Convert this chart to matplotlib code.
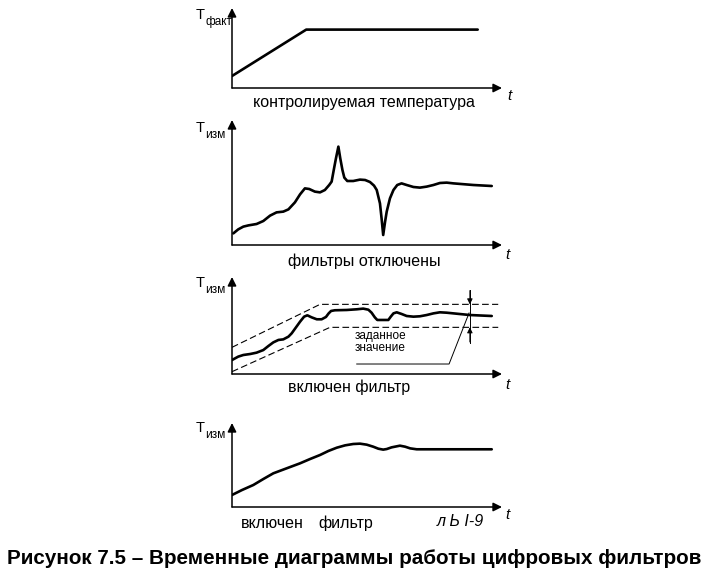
import numpy as np
import matplotlib
matplotlib.use("Agg")
import matplotlib.pyplot as plt

plt.rcParams['font.family'] = ['Liberation Sans', 'DejaVu Sans']

# --- data (time 0..100, temperature 0..100 of each panel height)
t_fact = [0, 27.5, 91]
T_fact = [15, 73, 73]

t_raw = [0.5, 2.3, 4.2, 6.1, 9.1, 11.6, 14.1, 16.5, 19.0, 20.9, 23.3, 25.2, 27.0,
         28.6, 30.7, 32.6, 34.4, 36.0, 36.9, 37.8, 38.5, 39.4, 40.1, 40.9, 41.6,
         42.7, 44.9, 47.4, 49.3, 51.1, 52.6, 53.6, 54.8, 55.4, 56.0, 56.7, 57.3,
         58.5, 59.8, 61.2, 62.8, 64.7, 67.2, 69.6, 72.1, 74.6, 77.0, 79.5, 82.0,
         89.4, 96.2]
T_raw = [9.3, 12.5, 14.7, 15.7, 16.8, 19.2, 23.5, 26.1, 26.7, 28.5, 34.1, 40.5, 45.3,
         44.8, 42.7, 42.1, 44, 48, 50.7, 61.3, 69.3, 78.7, 69.3, 60, 53.9,
         51.2, 51.2, 52.3, 52, 50.4, 47.5, 44, 33.3, 21.3, 8, 18.7, 26.7,
         37.3, 44, 48, 49.3, 48, 46.4, 45.9, 46.7, 48, 49.6, 49.9, 49.3,
         48, 47.2]

t_band_hi = [0, 32.6, 98.6]
T_band_hi = [27.5, 71.8, 71.8]
t_band_lo = [0, 36.3, 98.6]
T_band_lo = [2.4, 48.1, 48.1]

t_flt = [0, 2.3, 4.2, 6.7, 9.1, 11.6, 13.5, 15.3, 17.2, 19.0, 20.9, 22.1, 23.7,
         25.2, 26.7, 27.9, 29.5, 31.4, 33.2, 34.8, 35.8, 36.7, 38.1, 42.5, 46.2,
         48.6, 50.5, 51.7, 52.9, 53.8, 57.9, 58.8, 59.8, 61.0, 62.8, 64.7, 67.2,
         69.6, 72.1, 74.6, 77.0, 79.5, 82.0, 88.1, 96.2]
T_flt = [14.4, 17.9, 19.6, 20.6, 22, 24.7, 28.9, 32.6, 35.1, 35.7, 38.5, 41.9, 48.1,
         53.9, 59.1, 60.5, 58.4, 56.4, 56.4, 58.8, 62.5, 65, 65.7, 66, 66.7,
         67.4, 66.3, 63.2, 58.4, 55.7, 55.7, 59.1, 62.5, 63.6, 61.9, 59.8, 59.1,
         59.5, 60.8, 62.5, 63.6, 63.2, 62.5, 60.8, 59.8]

t_smooth = [0, 3.7, 7.9, 11.6, 15.3, 20.2, 25.2, 28.9, 32.6, 35.7, 38.8, 41.9, 44.9,
            47.4, 49.9, 52.3, 54.2, 56.0, 57.3, 59.1, 62.2, 64.1, 66.0, 68.4, 72.1,
            96.2]
T_smooth = [14.3, 20.2, 26.2, 33.3, 40.1, 46, 52, 57.1, 61.9, 66.7, 70.6, 73.4, 75,
            75.4, 74.2, 71.8, 69.4, 68.3, 69, 71, 73, 71.8, 69.8, 68.7, 68.7,
            68.7]

W, H = 708, 580
fig = plt.figure(figsize=(W / 100, H / 100), dpi=100)


def fx(x, y):
    return x / W, 1 - y / H


def make_panel(axis_y, height):
    ax = fig.add_axes([232 / W, 1 - axis_y / H, 270 / W, height / H])
    ax.set_xlim(0, 100)
    ax.set_ylim(0, 100)
    ax.axis('off')
    arrow = dict(arrowstyle='-|>', lw=1.1, color='black', shrinkA=0, shrinkB=0,
                 mutation_scale=13)
    ax.annotate('', xy=(1, 0), xytext=(0, 0), xycoords='axes fraction',
                arrowprops=arrow, annotation_clip=False)
    ax.annotate('', xy=(0, 1), xytext=(0, 0), xycoords='axes fraction',
                arrowprops=arrow, annotation_clip=False)
    return ax


def ylabel(x, y, sub):
    fig.text(*fx(x, y), 'T', fontsize=10.5, ha='center', va='center')
    fig.text(*fx(x + 5, y + 7), sub, fontsize=8.5, ha='left', va='center')


def tlabel(x, y):
    fig.text(*fx(x, y), 't', fontsize=11, style='italic', ha='center', va='center')


curve = dict(color='black', lw=1.9, solid_joinstyle='round', solid_capstyle='round')

# panel 1
ax1 = make_panel(88, 80)
ax1.plot(t_fact, T_fact, **curve)
ylabel(200, 15, 'факт')
tlabel(509, 96)
fig.text(*fx(364, 102), 'контролируемая температура', fontsize=11.5,
         ha='center', va='center')

# panel 2
ax2 = make_panel(245, 125)
ax2.plot(t_raw, T_raw, **curve)
ylabel(200, 128, 'изм')
tlabel(507, 255)
fig.text(*fx(364, 261), 'фильтры отключены', fontsize=11.5, ha='center', va='center')

# panel 3
ax3 = make_panel(374, 97)
ax3.plot(t_band_hi, T_band_hi, color='black', lw=0.8, dashes=(6, 3))
ax3.plot(t_band_lo, T_band_lo, color='black', lw=0.8, dashes=(6, 3))
ax3.plot(t_flt, T_flt, **curve)
ax3.plot([88.1, 88.1], [86.6, 32], color='black', lw=0.7)
head = dict(arrowstyle='-|>', lw=0.7, color='black', shrinkA=0, shrinkB=0,
            mutation_scale=8)
ax3.annotate('', xy=(88.1, 71.8), xytext=(88.1, 86), arrowprops=head)
ax3.annotate('', xy=(88.1, 48.1), xytext=(88.1, 33), arrowprops=head)
ax3.plot([46.2, 80.4, 87.8], [10.3, 10.3, 62.9], color='black', lw=0.7)
fig.text(*fx(355, 342), 'заданное\nзначение', fontsize=8.5, ha='left', va='center',
         linespacing=1.0)
ylabel(200, 283, 'изм')
tlabel(507, 385)
fig.text(*fx(349, 387), 'включен фильтр', fontsize=11.5, ha='center', va='center')

# panel 4
ax4 = make_panel(507, 84)
ax4.plot(t_smooth, T_smooth, **curve)
ylabel(200, 428, 'изм')
tlabel(507, 515)
fig.text(*fx(272, 523), 'включен', fontsize=11.5, ha='center', va='center')
fig.text(*fx(346, 523), 'фильтр', fontsize=11.5, ha='center', va='center')
fig.text(*fx(460, 522), 'л Ь I-9', fontsize=11.5, style='italic',
         ha='center', va='center')

fig.text(*fx(354, 558), 'Рисунок 7.5 – Временные диаграммы работы цифровых фильтров',
         fontsize=14.9, fontweight='bold', ha='center', va='center')

fig.savefig('out.png', dpi=100)
